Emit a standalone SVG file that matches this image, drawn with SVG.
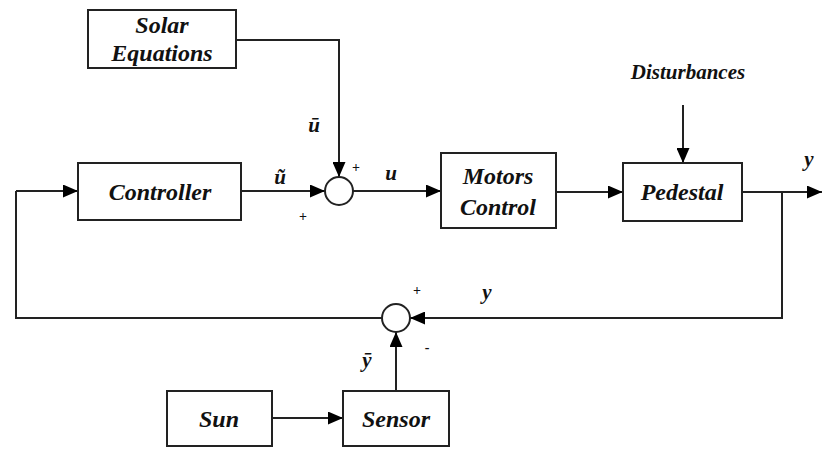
<svg xmlns="http://www.w3.org/2000/svg" width="822" height="450" viewBox="0 0 822 450">
<defs>
<marker id="ah" viewBox="0 0 15 13" refX="15" refY="6.5" markerWidth="15" markerHeight="13" markerUnits="userSpaceOnUse" orient="auto">
<path d="M0,0 L15,6.5 L0,13 z" fill="#000"/>
</marker>
</defs>
<style>
.box{fill:#fff;stroke:#222;stroke-width:2}
.sum{fill:#fff;stroke:#222;stroke-width:2}
.lbl{font-family:'Liberation Serif','Times New Roman',serif;font-style:italic;font-weight:bold;font-size:24px;fill:#111;text-anchor:middle}
.sig{font-family:'Liberation Serif','Times New Roman',serif;font-style:italic;font-weight:bold;font-size:21px;fill:#111;text-anchor:middle}
.pm{font-family:'Liberation Serif',serif;font-size:14px;font-weight:bold;fill:#111;text-anchor:middle}
.ln{fill:none;stroke:#222;stroke-width:2}
.ar{fill:none;stroke:#222;stroke-width:2;marker-end:url(#ah)}
</style>
<rect width="822" height="450" fill="#fff"/>
<g id="connectors">
<path class="ar" d="M236,40 H339 V177"/>
<path class="ar" d="M241,191 H325"/>
<path class="ar" d="M353,191 H441"/>
<path class="ar" d="M556,192 H623"/>
<path class="ar" d="M683,105 V163"/>
<path class="ar" d="M742,192 H822"/>
<path class="ar" d="M782,192 V318 H410"/>
<path class="ln" d="M382,318 H16 V191"/>
<path class="ar" d="M16,191 H78"/>
<path class="ar" d="M272,418 H343"/>
<path class="ar" d="M396,391 V332"/>
</g>
<g id="solar"><rect class="box" x="88" y="10" width="148" height="58"/><text class="lbl" x="162" y="33">Solar</text><text class="lbl" x="162" y="61">Equations</text></g>
<g id="controller"><rect class="box" x="78" y="163" width="163" height="57"/><text class="lbl" x="160" y="200">Controller</text></g>
<g id="sum1"><circle class="sum" cx="339" cy="191" r="14"/></g>
<g id="motors"><rect class="box" x="441" y="153" width="115" height="75"/><text class="lbl" x="498" y="184">Motors</text><text class="lbl" x="498" y="215">Control</text></g>
<g id="pedestal"><rect class="box" x="623" y="163" width="119" height="58"/><text class="lbl" x="682" y="200">Pedestal</text></g>
<g id="sum2"><circle class="sum" cx="396" cy="318" r="14"/></g>
<g id="sun"><rect class="box" x="167" y="391" width="105" height="55"/><text class="lbl" x="219" y="427">Sun</text></g>
<g id="sensor"><rect class="box" x="343" y="391" width="106" height="55"/><text class="lbl" x="396" y="427">Sensor</text></g>
<g id="labels">
<text class="sig" x="688" y="79">Disturbances</text>
<text class="sig" x="314" y="132">ū</text>
<text class="sig" x="280" y="184">ũ</text>
<text class="pm" x="356" y="172">+</text>
<text class="pm" x="303" y="221">+</text>
<text class="sig" x="391" y="180">u</text>
<text class="sig" x="809" y="166">y</text>
<text class="pm" x="417" y="295">+</text>
<text class="sig" x="487" y="299">y</text>
<text class="pm" x="427" y="352">-</text>
<text class="sig" x="367" y="367">ȳ</text>
</g>
</svg>
